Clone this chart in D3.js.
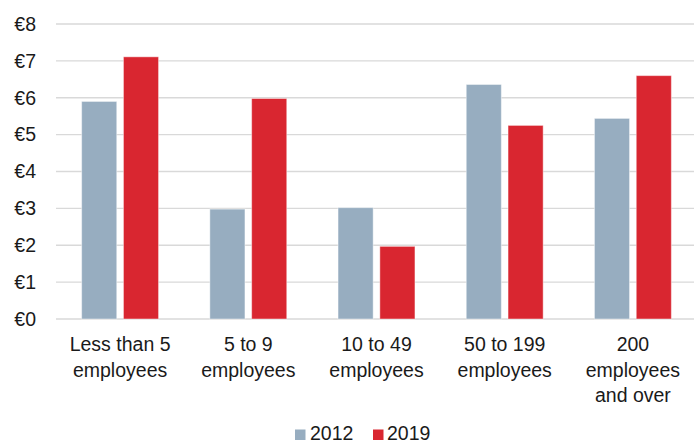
<!DOCTYPE html>
<html>
<head>
<meta charset="utf-8">
<script src="https://cdn.jsdelivr.net/npm/d3@7"></script>
<style>
  html, body { margin: 0; padding: 0; background: #fff; }
  svg { display: block; }
  text { font-family: "Liberation Sans", Arial, Helvetica, sans-serif; fill: #1a1a1a; }
</style>
</head>
<body>
<svg id="chart" width="694" height="442"></svg>
<script>
const categories = [
  ["Less than 5", "employees"],
  ["5 to 9", "employees"],
  ["10 to 49", "employees"],
  ["50 to 199", "employees"],
  ["200", "employees", "and over"]
];
const seriesNames = ["2012", "2019"];
const values2012 = [5.90, 2.98, 3.02, 6.36, 5.44];
const values2019 = [7.11, 5.98, 1.97, 5.25, 6.60];
const yTicks = [0, 1, 2, 3, 4, 5, 6, 7, 8];
const colors = ["#97adc0", "#d92630"];

const svg = d3.select("#chart");
const W = 694, H = 442;
const mLeft = 56, mRight = 697, mTop = 24, mBottom = 319;

const x0 = d3.scaleBand().domain(d3.range(categories.length)).range([mLeft, mRight]).paddingInner(0.4).paddingOuter(0.2);
const x1 = d3.scaleBand().domain(seriesNames).range([0, x0.bandwidth()]).paddingInner(0.16);
const y = d3.scaleLinear().domain([0, 8]).range([mBottom, mTop]);

// gridlines
svg.append("g").selectAll("line").data(yTicks).join("line")
  .attr("x1", mLeft).attr("x2", W)
  .attr("y1", d => y(d)).attr("y2", d => y(d))
  .attr("stroke", "#d9d9d9").attr("stroke-width", 1.3);

// y tick labels
svg.append("g").selectAll("text").data(yTicks).join("text")
  .attr("x", 36).attr("y", d => y(d)).attr("dy", "0.35em")
  .attr("text-anchor", "end").attr("font-size", 19.5)
  .text(d => "€" + d);

const series = [values2012, values2019];
const groups = svg.append("g").selectAll("g").data(categories).join("g")
  .attr("transform", (d, i) => `translate(${x0(i)},0)`);
groups.selectAll("rect").data((d, i) => seriesNames.map((s, k) => ({s, k, v: series[k][i]}))).join("rect")
  .attr("x", d => x1(d.s)).attr("width", x1.bandwidth())
  .attr("y", d => y(d.v)).attr("height", d => y(0) - y(d.v))
  .attr("fill", d => colors[d.k])
  .attr("stroke", "rgba(255,255,255,0.45)").attr("stroke-width", 1);

// category labels
const lab = svg.append("g").selectAll("text").data(categories).join("text")
  .attr("x", (d, i) => x0(i) + x0.bandwidth() / 2)
  .attr("y", 351)
  .attr("text-anchor", "middle").attr("font-size", 19.5);
lab.selectAll("tspan").data(d => d).join("tspan")
  .attr("x", function() { return this.parentNode.getAttribute("x"); })
  .attr("dy", (d, j) => j === 0 ? 0 : 25.5)
  .text(d => d);

// legend
const legendItems = [{name: "2012", sx: 295, tx: 310}, {name: "2019", sx: 373, tx: 387}];
const lg = svg.append("g");
seriesNames.forEach((name, k) => {
  const it = legendItems[k];
  lg.append("rect").attr("x", it.sx).attr("y", 429.5).attr("width", 10.5).attr("height", 10.5).attr("fill", colors[k]);
  lg.append("text").attr("x", it.tx).attr("y", 439.5).attr("font-size", 19.5).text(name);
});
</script>
</body>
</html>
